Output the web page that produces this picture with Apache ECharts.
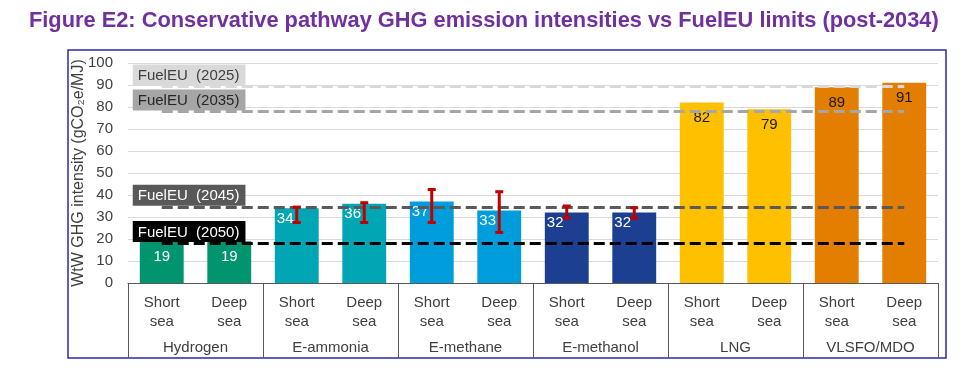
<!DOCTYPE html>
<html>
<head>
<meta charset="utf-8">
<script src="https://cdn.jsdelivr.net/npm/echarts@6/dist/echarts.min.js"></script>
<style>
html,body{margin:0;padding:0;background:#fff;}
#chart{width:975px;height:379px;}
</style>
</head>
<body>
<div id="chart"></div>
<script>
// ---- data ----
const titleText = 'Figure E2: Conservative pathway GHG emission intensities vs FuelEU limits (post-2034)';
const yAxisName = 'WtW GHG intensity (gCO\u2082e/MJ)';
const groups = ['Hydrogen', 'E-ammonia', 'E-methane', 'E-methanol', 'LNG', 'VLSFO/MDO'];
const subLabels = ['Short\nsea', 'Deep\nsea'];
const values = [19, 19, 34, 36, 37, 33, 32, 32, 82, 79, 89, 91];
const errLow = [null, null, 27.5, 27.5, 27.5, 23, 29.5, 29.5, null, null, null, null];
const errHigh = [null, null, 34.5, 36.5, 42.5, 41.5, 35, 34.2, null, null, null, null];
const limitNames = ['FuelEU  (2025)', 'FuelEU  (2035)', 'FuelEU  (2045)', 'FuelEU  (2050)'];
const limitValues = [89.34, 77.94, 34.64, 18.23];
const yTicks = [0, 100, 10]; // min, max, interval

// ---- styles ----
const groupColors = ['#00956F', '#00A6B4', '#009DDC', '#1D3F91', '#FFC000', '#E47E00'];
const groupLabelColors = ['#ffffff', '#ffffff', '#ffffff', '#ffffff', '#1a1a1a', '#1a1a1a'];
const limitLineColors = ['#D9D9D9', '#A6A6A6', '#595959', '#000000'];
const limitBoxColors = ['#D9D9D9', '#A6A6A6', '#595959', '#000000'];
const limitTextColors = ['#404040', '#262626', '#ffffff', '#ffffff'];
const font = 'Arial, "Liberation Sans", sans-serif';

const xCats = [];
groups.forEach(g => subLabels.forEach(s => xCats.push(g + '|' + s)));

const barData = values.map((v, i) => {
  const gi = Math.floor(i / subLabels.length);
  const hasErr = errLow[i] != null;
  return {
    value: v,
    itemStyle: { color: groupColors[gi] },
    label: hasErr ? {
      position: [2, 3], align: 'left', verticalAlign: 'top', color: groupLabelColors[gi]
    } : {
      position: 'insideTop', distance: 8, color: groupLabelColors[gi]
    }
  };
});

const errData = values.map((v, i) => [i, errLow[i], errHigh[i]]).filter(d => d[1] != null);

const markLineData = limitValues.map((v, k) => [
  {
    coord: [0, v],
    lineStyle: { color: limitLineColors[k], type: [11, 5], width: 3 },
    label: {
      show: true, formatter: limitNames[k], position: 'insideStartTop', distance: [-29, 1],
      backgroundColor: limitBoxColors[k], color: limitTextColors[k], padding: [4, 6, 2, 5],
      fontSize: 15, fontFamily: font
    }
  },
  { coord: [xCats.length - 1, v] }
]);

const chart = echarts.init(document.getElementById('chart'), null, { renderer: 'canvas' });
chart.setOption({
  animation: false,
  backgroundColor: '#ffffff',
  title: {
    text: titleText, left: 24, top: 5,
    textStyle: { color: '#7030A0', fontWeight: 'bold', fontSize: 21.8, fontFamily: font }
  },
  graphic: [{
    type: 'rect', z: -10, silent: true,
    shape: { x: 68, y: 50, width: 878, height: 308 },
    style: { fill: 'none', stroke: '#2a2aa8', lineWidth: 1.5 }
  }],
  grid: { left: 128, right: 37, top: 63, bottom: 96, containLabel: false },
  xAxis: [{
    type: 'category', data: xCats, position: 'bottom',
    axisLine: { lineStyle: { color: '#595959', width: 1 } },
    axisTick: { show: false },
    axisLabel: {
      interval: 0, margin: 10, fontSize: 15, lineHeight: 19, color: '#404040', fontFamily: font,
      formatter: v => v.split('|')[1]
    }
  }, {
    type: 'category', data: groups, position: 'bottom', offset: 0,
    axisLine: { show: false },
    axisTick: { show: true, interval: 0, length: 75, lineStyle: { color: '#595959', width: 1 } },
    axisLabel: { interval: 0, margin: 57, fontSize: 15, color: '#404040', fontFamily: font }
  }],
  yAxis: {
    type: 'value', min: yTicks[0], max: yTicks[1], interval: yTicks[2],
    name: yAxisName, nameLocation: 'middle', nameGap: 41, nameMoveOverlap: false,
    nameTextStyle: { fontSize: 16, color: '#404040', fontFamily: font },
    axisLine: { show: false }, axisTick: { show: false },
    axisLabel: { fontSize: 15, color: '#404040', margin: 15, fontFamily: font },
    splitLine: { lineStyle: { color: '#D9D9D9', width: 1 } }
  },
  series: [{
    type: 'bar', xAxisIndex: 0, data: barData, barWidth: '65%', z: 2,
    label: { show: true, fontSize: 15, fontFamily: font },
    silent: true
  }, {
    type: 'line', xAxisIndex: 0, data: [], z: 3, silent: true,
    markLine: { symbol: 'none', silent: true, data: markLineData, z: 3 }
  }, {
    type: 'custom', xAxisIndex: 0, data: errData, z: 5, silent: true,
    renderItem: function (params, api) {
      const x = api.value(0);
      const lo = api.coord([x, api.value(1)]);
      const hi = api.coord([x, api.value(2)]);
      const cap = 4;
      const st = { stroke: '#C00000', lineWidth: 3 };
      return {
        type: 'group',
        children: [
          { type: 'line', shape: { x1: lo[0], y1: lo[1], x2: hi[0], y2: hi[1] }, style: st },
          { type: 'line', shape: { x1: lo[0] - cap, y1: lo[1], x2: lo[0] + cap, y2: lo[1] }, style: st },
          { type: 'line', shape: { x1: hi[0] - cap, y1: hi[1], x2: hi[0] + cap, y2: hi[1] }, style: st }
        ]
      };
    }
  }]
});
</script>
</body>
</html>
